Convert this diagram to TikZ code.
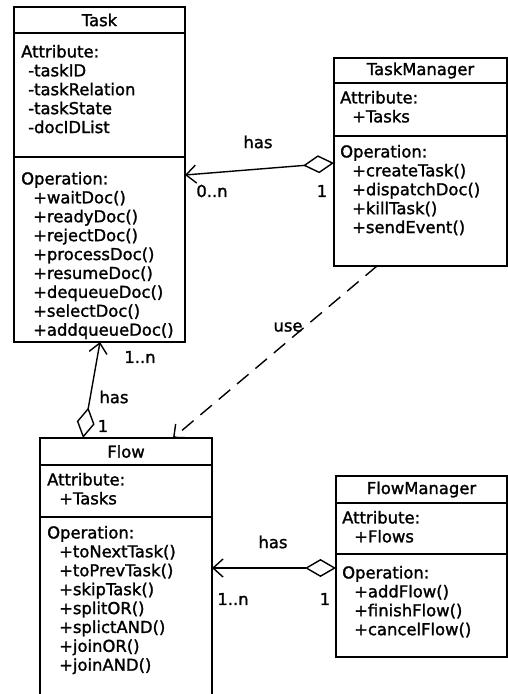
\documentclass[tikz,border=0pt]{standalone}
\usepackage{fontspec}
\setmainfont{DejaVu Sans}[FakeBold=1.5]
\usetikzlibrary{
  shapes.multipart,
  positioning,
  calc,
  arrows.meta
}

\tikzset{
  umlfont/.style={font=\fontsize{16.4}{18.9}\selectfont},
  umlpart/.style={draw,line width=1.6pt,inner sep=0pt,outer sep=0pt,umlfont},
  umltext/.style={inner sep=0pt,align=left,umlfont},
  umllabel/.style={inner sep=0pt,umlfont},
  hasline/.style={line width=1.4pt,
    {Diamond[open,length=31pt,width=18pt]}-{Straight Barb[length=10pt,width=18pt]}},
  useline/.style={line width=1.4pt,dash pattern=on 15pt off 9pt,
    -{Straight Barb[length=10pt,width=18pt]}}
}

\begin{document}
\begin{tikzpicture}[x=1pt,y=-1pt]
  \useasboundingbox (0,0) rectangle (508,694);
  % Task
  \node[umlpart,minimum width=171pt,minimum height=26pt,anchor=north west] (task) at (14,7) {Task};
  \node[umlpart,minimum width=171pt,minimum height=124pt,below=0pt of task] (taskA) {};
  \node[umlpart,minimum width=171pt,minimum height=185pt,below=0pt of taskA] (taskO) {};
  \node[umltext,below right=11pt and 7pt of taskA.north west] (taskAtxt) {\strut Attribute:\\
    \hspace*{7pt}-taskID\\ \hspace*{7pt}-taskRelation\\ \hspace*{7pt}-taskState\\ \hspace*{7pt}-docIDList};
  \node[umltext,below right=14pt and 7pt of taskO.north west] (taskOtxt) {%
    \baselineskip=18.4pt\strut Operation:\\
    \hspace*{12pt}+waitDoc()\\ \hspace*{12pt}+readyDoc()\\ \hspace*{12pt}+rejectDoc()\\
    \hspace*{12pt}+processDoc()\\ \hspace*{12pt}+resumeDoc()\\ \hspace*{12pt}+dequeueDoc()\\
    \hspace*{12pt}+selectDoc()\\ \hspace*{12pt}+addqueueDoc()};
  % TaskManager
  \node[umlpart,minimum width=173pt,minimum height=25pt,anchor=north west] (tm) at (334,58) {TaskManager};
  \node[umlpart,minimum width=173pt,minimum height=53pt,below=0pt of tm] (tmA) {};
  \node[umlpart,minimum width=173pt,minimum height=130pt,below=0pt of tmA] (tmO) {};
  \node[umltext,below right=7pt and 6pt of tmA.north west] (tmAtxt) {\strut Attribute:\\
    \hspace*{12pt}+Tasks};
  \node[umltext,below right=8pt and 6pt of tmO.north west] (tmOtxt) {\strut Operation:\\
    \hspace*{12pt}+createTask()\\ \hspace*{12pt}+dispatchDoc()\\
    \hspace*{12pt}+killTask()\\ \hspace*{12pt}+sendEvent()};
  % Flow
  \node[umlpart,minimum width=172pt,minimum height=27pt,anchor=north west] (flow) at (40,438) {Flow};
  \node[umlpart,minimum width=172pt,minimum height=52pt,below=0pt of flow] (flowA) {};
  \node[umlpart,minimum width=172pt,minimum height=178pt,below=0pt of flowA] (flowO) {};
  \node[umltext,below right=7pt and 7pt of flowA.north west] (flowAtxt) {\strut Attribute:\\
    \hspace*{12pt}+Tasks};
  \node[umltext,below right=8pt and 7pt of flowO.north west] (flowOtxt) {%
    \baselineskip=19.3pt\strut Operation:\\
    \hspace*{12pt}+toNextTask()\\ \hspace*{12pt}+toPrevTask()\\ \hspace*{12pt}+skipTask()\\
    \hspace*{12pt}+splitOR()\\ \hspace*{12pt}+splictAND()\\ \hspace*{12pt}+joinOR()\\
    \hspace*{12pt}+joinAND()};
  % FlowManager
  \node[umlpart,minimum width=171pt,minimum height=27pt,anchor=north west] (fm) at (336,476) {FlowManager};
  \node[umlpart,minimum width=171pt,minimum height=51pt,below=0pt of fm] (fmA) {};
  \node[umlpart,minimum width=171pt,minimum height=103pt,below=0pt of fmA] (fmO) {};
  \node[umltext,below right=7pt and 6pt of fmA.north west] (fmAtxt) {\strut Attribute:\\
    \hspace*{12pt}+Flows};
  \node[umltext,below right=11pt and 6pt of fmO.north west] (fmOtxt) {\strut Operation:\\
    \hspace*{12pt}+addFlow()\\ \hspace*{12pt}+finishFlow()\\ \hspace*{12pt}+cancelFlow()};
  % connectors
  \draw[hasline] ([yshift=-27pt]tmO.north west) -- ([yshift=-18pt]taskO.north east);
  \draw[hasline] ([xshift=43pt]flow.north west) -- ([xshift=86pt]taskO.south west);
  \draw[hasline] ([yshift=-14pt]fmO.north west) -- ([yshift=-51pt]flowO.north east);
  \draw[useline] ([xshift=43pt]tmO.south west) -- ([xshift=133pt]flow.north west);
  % labels
  \node[umllabel] (tmHas) at (258,142) {has};
  \node[umllabel] (tmMany) at (212,191) {0..n};
  \node[umllabel] (tmOne) at (322,191) {1};
  \node[umllabel] (useTxt) at (288,327) {use};
  \node[umllabel] (flowMany) at (140,357) {1..n};
  \node[umllabel] (flowHas) at (114,397) {has};
  \node[umllabel] (flowOne) at (103,426) {1};
  \node[umllabel] (fmHas) at (273,542) {has};
  \node[umllabel] (fmMany) at (233,599) {1..n};
  \node[umllabel] (fmOne) at (325,599) {1};
\end{tikzpicture}
\end{document}
